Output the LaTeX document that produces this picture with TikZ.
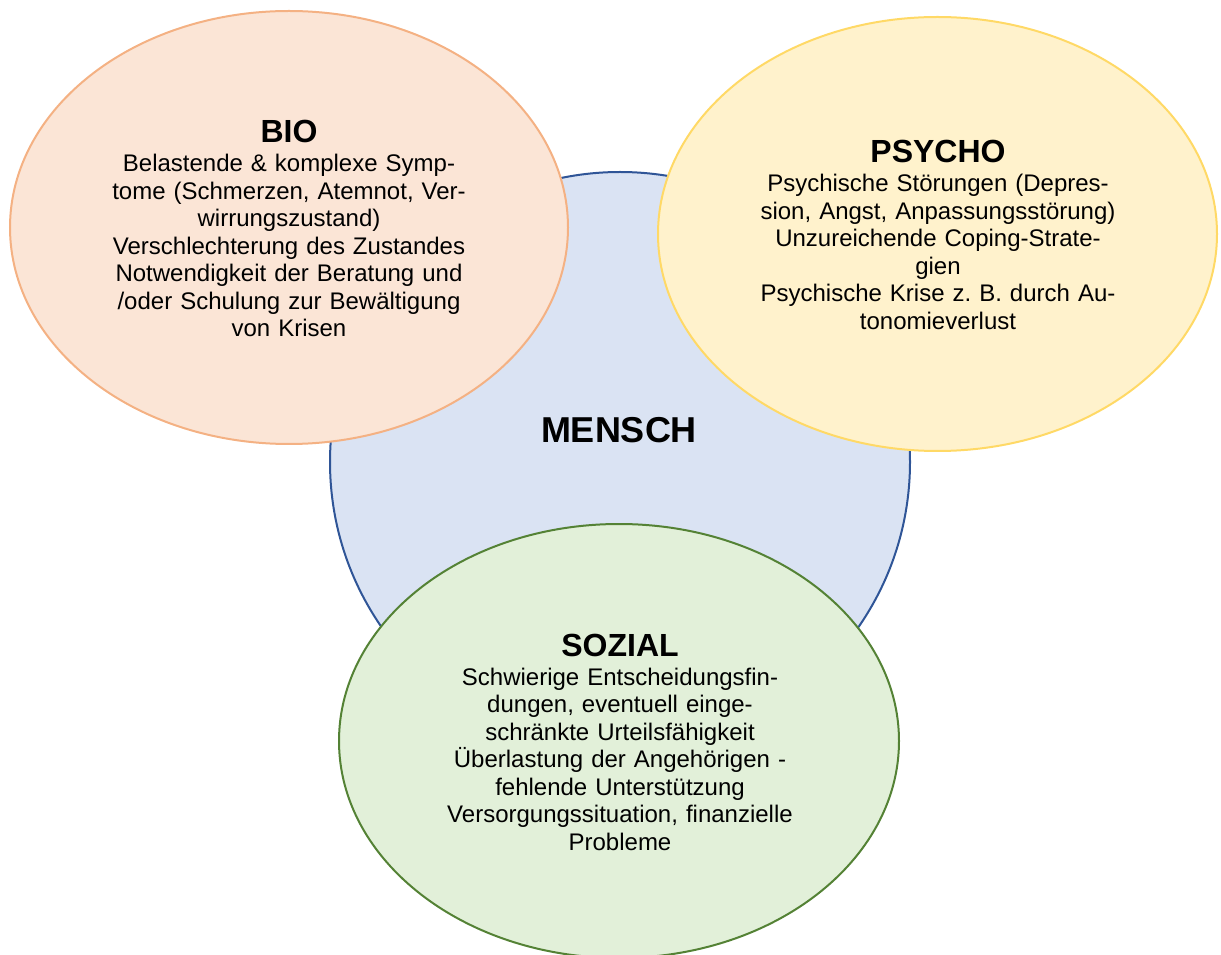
\documentclass[tikz,border=0pt]{standalone}
\usepackage{fontspec}
\setmainfont{Liberation Sans}
\usetikzlibrary{shapes.geometric}
\definecolor{bioFill}{HTML}{FBE5D6}
\definecolor{bioLine}{HTML}{F4B183}
\definecolor{psyFill}{HTML}{FFF2CC}
\definecolor{psyLine}{HTML}{FFD966}
\definecolor{menFill}{HTML}{DAE3F3}
\definecolor{menLine}{HTML}{2F5597}
\definecolor{sozFill}{HTML}{E2F0D9}
\definecolor{sozLine}{HTML}{548235}
\tikzset{
  blob/.style={ellipse, inner sep=0pt, line width=1.5pt},
  titletext/.style={anchor=base, inner sep=0pt, font=\fontsize{24}{28}\selectfont\bfseries},
  bodytext/.style={anchor=base, inner sep=0pt, text width=400pt, align=center, font=\fontsize{18}{20.66}\selectfont},
}
\begin{document}
\begin{tikzpicture}[x=0.75pt, y=-0.75pt]
\useasboundingbox (0,0) rectangle (1221,955);
\clip (0,0) rectangle (1221,955);
\node[blob, circle, draw=menLine, fill=menFill, minimum size=435pt] (mensch) at (620,462) {};
\node[blob, draw=bioLine, fill=bioFill, minimum width=418.5pt, minimum height=324.75pt] (bio) at (289,227.5) {};
\node[blob, draw=psyLine, fill=psyFill, minimum width=419.25pt, minimum height=325.5pt] (psycho) at (937.5,234) {};
\node[blob, draw=sozLine, fill=sozFill, minimum width=420pt, minimum height=325.5pt] (sozial) at (619,741) {};
\node[titletext, font=\fontsize{27}{31}\selectfont\bfseries] (menschT) at (619,443) {MENSCH};
\node[titletext] (bioT) at (289,143) {BIO};
\node[bodytext] (bioB) at (289,171.7) {Belastende \& komplexe Symp-\\tome (Schmerzen, Atemnot, Ver-\\wirrungszustand)\\Verschlechterung des Zustandes\\Notwendigkeit der Beratung und\\/oder Schulung zur Bewältigung\\von Krisen};
\node[titletext] (psyT) at (938,162.7) {PSYCHO};
\node[bodytext] (psyB) at (938,191.7) {Psychische Störungen (Depres-\\sion, Angst, Anpassungsstörung)\\Unzureichende Coping-Strate-\\gien\\Psychische Krise z.~B. durch Au-\\tonomieverlust};
\node[titletext] (sozT) at (620,656) {SOZIAL};
\node[bodytext] (sozB) at (620,685) {Schwierige Entscheidungsfin-\\dungen, eventuell einge-\\schränkte Urteilsfähigkeit\\Überlastung der Angehörigen -\\fehlende Unterstützung\\Versorgungssituation, finanzielle\\Probleme};
\end{tikzpicture}
\end{document}
